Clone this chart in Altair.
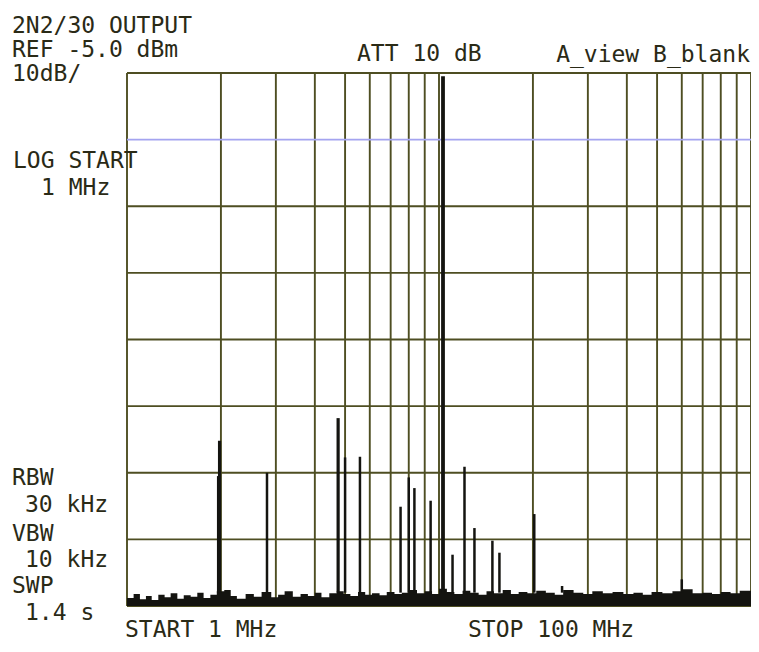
import altair as alt
import pandas as pd

# ---- data ----
h_grid_db = [-5, -15, -25, -35, -45, -55, -65, -75, -85]
v_grid_mhz = [1, 2, 3, 4, 5, 6, 7, 8, 9, 10, 20, 30, 40, 50, 60, 70, 80, 90, 100]

peak_mhz = [1.96, 1.98, 2.81, 4.75, 5.0, 5.58, 7.53, 8.0, 8.34, 9.40, 10.3,
            11.05, 12.07, 12.99, 14.83, 15.62, 20.2, 24.8, 60.0]
peak_dbm = [-65.5, -60.2, -65.0, -56.8, -62.7, -62.6, -70.1, -65.7, -67.3, -69.2, -5.5,
            -77.3, -64.1, -73.3, -75.2, -77.0, -71.2, -82.0, -81.0]

noise_mhz = [1.0, 1.05, 1.1, 1.15, 1.2, 1.26, 1.32, 1.38, 1.45, 1.52,
             1.6, 1.68, 1.76, 1.85, 1.94, 2.05, 2.15, 2.25, 2.4, 2.55,
             2.7, 2.9, 3.05, 3.2, 3.4, 3.6, 3.8, 4.0, 4.2, 4.45,
             4.7, 4.95, 5.2, 5.5, 5.8, 6.1, 6.45, 6.8, 7.2, 7.6,
             8.0, 8.5, 9.0, 9.5, 10.0, 10.6, 11.2, 11.9, 12.6, 13.4,
             14.2, 15.0, 16.0, 17.0, 18.0, 19.2, 20.5, 22, 23.5, 25,
             27, 29, 31, 33.5, 36, 39, 42, 45, 48, 52,
             56, 60, 65, 70, 75, 80, 86, 92, 100]
noise_dbm = [-83.8, -83.2, -84.0, -83.5, -84.1, -83.3, -83.7, -83.1, -83.9, -83.4,
             -83.6, -83.0, -83.8, -83.3, -82.8, -82.6, -83.5, -83.9, -83.2, -83.6,
             -82.9, -83.7, -83.3, -82.8, -83.6, -83.2, -83.5, -83.0, -83.7, -83.1,
             -82.8, -83.2, -83.5, -82.9, -83.3, -83.1, -83.4, -82.9, -83.2, -83.0,
             -82.6, -83.1, -82.8, -83.2, -82.4, -82.9, -83.2, -82.7, -83.0, -83.3,
             -82.8, -83.1, -82.6, -83.2, -82.9, -83.1, -82.7, -83.0, -83.3, -82.6,
             -83.0, -83.2, -82.8, -83.1, -82.9, -83.2, -83.0, -83.3, -82.9, -83.1,
             -82.8, -82.5, -83.1, -83.0, -83.2, -82.9, -83.1, -82.7, -83.3]

floor_db = -85

# ---- tables ----
hgrid = pd.DataFrame({"db": h_grid_db})
vgrid = pd.DataFrame({"mhz": v_grid_mhz})
peaks = pd.DataFrame({"mhz": peak_mhz, "dbm": peak_dbm})
noise = pd.DataFrame({"mhz": noise_mhz, "dbm": noise_dbm})

xs = alt.Scale(type="log", domain=[1, 100], nice=False)
ys = alt.Scale(domain=[-85, -5], nice=False, zero=False)

GRID = "#4e4e22"
INK = "#141410"
TXT = "#2a2a16"
FONT = "DejaVu Sans Mono"
FS = 23

vlines = alt.Chart(vgrid).mark_rule(color=GRID, strokeWidth=1.9).encode(
    x=alt.X("mhz:Q", scale=xs, axis=None))
hlines = alt.Chart(hgrid).mark_rule(strokeWidth=1.9).encode(
    y=alt.Y("db:Q", scale=ys, axis=None),
    color=alt.when(alt.datum.db == -15).then(alt.value("#a4a4f0")).otherwise(alt.value(GRID)))

noise_area = alt.Chart(noise).mark_area(color=INK, interpolate="step-after").encode(
    x=alt.X("mhz:Q", scale=xs, axis=None),
    y=alt.Y("dbm:Q", scale=ys, axis=None),
    y2=alt.datum(floor_db))

peak_rules = alt.Chart(peaks).mark_rule(color=INK).encode(
    x=alt.X("mhz:Q", scale=xs, axis=None),
    y=alt.Y("dbm:Q", scale=ys, axis=None),
    y2=alt.datum(-83),
    strokeWidth=alt.when(alt.datum.dbm > -20).then(alt.value(3.8))
    .when(alt.datum.dbm > -61).then(alt.value(3.2))
    .otherwise(alt.value(2.5)))

def label(text, x, y, align="left"):
    return alt.Chart(pd.DataFrame({"t": [text]})).mark_text(
        font=FONT, fontSize=FS, color=TXT, align=align, baseline="alphabetic"
    ).encode(text="t:N", x=alt.value(x), y=alt.value(y))

labels = [
    label("2N2/30 OUTPUT", -115, -40),
    label("REF -5.0 dBm", -115, -16),
    label("10dB/", -115, 8),
    label("ATT 10 dB", 230, -12),
    label("A_view B_blank", 623, -11, align="right"),
    label("LOG START", -114, 95),
    label("1 MHz", -86, 122),
    label("RBW", -115, 412),
    label("30 kHz", -102, 439),
    label("VBW", -115, 468),
    label("10 kHz", -102, 494),
    label("SWP", -115, 520),
    label("1.4 s", -102, 547),
    label("START 1 MHz", -2, 564),
    label("STOP 100 MHz", 341, 564),
]

chart = alt.layer(vlines, hlines, noise_area, peak_rules, *labels).properties(
    width=624, height=533,
    autosize=alt.AutoSizeParams(type="none"),
    padding={"left": 119, "top": 65, "right": 0, "bottom": 38},
    background="white",
).configure_view(stroke=None)

chart.save("out.html", embed_options={"renderer": "svg", "actions": False})
